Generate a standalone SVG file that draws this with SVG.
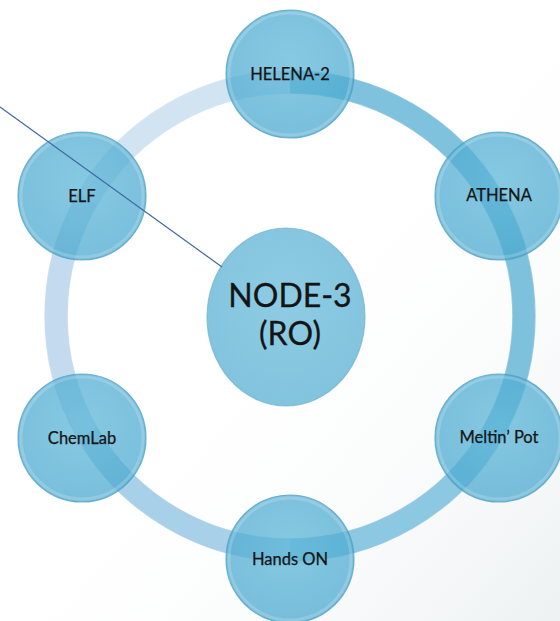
<svg xmlns="http://www.w3.org/2000/svg" width="560" height="621" viewBox="0 0 560 621">
  <defs>
    <linearGradient id="bgShade" x1="0" y1="0" x2="1" y2="1">
      <stop offset="0.45" stop-color="#ffffff" stop-opacity="0"/>
      <stop offset="1" stop-color="#dfe6e8" stop-opacity="0.55"/>
    </linearGradient>
    <radialGradient id="sat" cx="0.5" cy="0.4" r="0.6">
      <stop offset="0" stop-color="#5cb6d8"/>
      <stop offset="1" stop-color="#4aa8cf"/>
    </radialGradient>
    <radialGradient id="hub" cx="0.5" cy="0.4" r="0.6">
      <stop offset="0" stop-color="#8ecce4"/>
      <stop offset="1" stop-color="#82c3dd"/>
    </radialGradient>
    <style>
      .seg { fill: none; stroke-width: 22; }
      .segEdge { fill: none; stroke-width: 23.5; stroke-opacity: 0.55; }
      .sat { fill: url(#sat); fill-opacity: 0.74; stroke: #4f9fc0; stroke-opacity: 0.75; stroke-width: 1.2; }
      .glow { fill: none; stroke: #ffffff; stroke-opacity: 0.18; stroke-width: 3; }
      .hub { fill: url(#hub); stroke: #6fb3cf; stroke-opacity: 0.7; stroke-width: 1.2; }
      .lbl { font-family: Lato, "Liberation Sans", sans-serif; font-size: 16.5px; fill: #141414; stroke: #141414; stroke-width: 0.25; text-anchor: middle; }
      .big { font-family: Lato, "Liberation Sans", sans-serif; font-size: 32px; fill: #141414; stroke: #141414; stroke-width: 0.3; text-anchor: middle; }
      .link { stroke: #3f6a9e; stroke-width: 1.2; fill: none; }
    </style>
  </defs>

  <!-- background -->
  <rect x="0" y="0" width="560" height="621" fill="#ffffff"/>
  <rect x="0" y="0" width="560" height="621" fill="url(#bgShade)"/>

  <!-- cycle ring, one arc between each pair of neighbouring nodes -->
  <g id="ring">
    <path class="segEdge" stroke="#b8d3e8" d="M290,82 A234,234 0 0 0 87.4,199"/>
    <path class="seg" stroke="#d2e4f2" d="M290,82 A234,234 0 0 0 87.4,199"/>
    <path class="segEdge" stroke="#a8c8e2" d="M87.4,199 A234,234 0 0 0 87.4,433"/>
    <path class="seg" stroke="#c4daee" d="M87.4,199 A234,234 0 0 0 87.4,433"/>
    <path class="segEdge" stroke="#86b8d8" d="M87.4,433 A234,234 0 0 0 290,550"/>
    <path class="seg" stroke="#a8d0e8" d="M87.4,433 A234,234 0 0 0 290,550"/>
    <path class="segEdge" stroke="#6aaed0" d="M290,550 A234,234 0 0 0 492.6,433"/>
    <path class="seg" stroke="#8cc8e2" d="M290,550 A234,234 0 0 0 492.6,433"/>
    <path class="segEdge" stroke="#5aa6cc" d="M492.6,433 A234,234 0 0 0 492.6,199"/>
    <path class="seg" stroke="#7ec1dd" d="M492.6,433 A234,234 0 0 0 492.6,199"/>
    <path class="segEdge" stroke="#5aa6cc" d="M492.6,199 A234,234 0 0 0 290,82"/>
    <path class="seg" stroke="#7fc2de" d="M492.6,199 A234,234 0 0 0 290,82"/>
  </g>

  <!-- hub -->
  <g id="node-3">
    <ellipse class="hub" cx="286" cy="317" rx="79" ry="89"/>
    <text class="big" x="290" y="307">NODE-3</text>
    <text class="big" x="290" y="345">(RO)</text>
  </g>

  <!-- satellites -->
  <g id="helena-2">
    <circle class="sat" cx="290" cy="74" r="64"/>
    <circle class="glow" cx="290" cy="74" r="61"/>
    <text class="lbl" x="290" y="80">HELENA-2</text>
  </g>
  <g id="athena">
    <circle class="sat" cx="499" cy="196" r="64"/>
    <circle class="glow" cx="499" cy="196" r="61"/>
    <text class="lbl" x="499" y="201">ATHENA</text>
  </g>
  <g id="meltin-pot">
    <circle class="sat" cx="499" cy="438" r="64"/>
    <circle class="glow" cx="499" cy="438" r="61"/>
    <text class="lbl" x="499" y="443">Meltin’ Pot</text>
  </g>
  <g id="hands-on">
    <circle class="sat" cx="290" cy="559" r="64"/>
    <circle class="glow" cx="290" cy="559" r="61"/>
    <text class="lbl" x="290" y="565">Hands ON</text>
  </g>
  <g id="chemlab">
    <circle class="sat" cx="82" cy="438" r="64"/>
    <circle class="glow" cx="82" cy="438" r="61"/>
    <text class="lbl" x="82" y="444">ChemLab</text>
  </g>
  <g id="elf">
    <circle class="sat" cx="82" cy="196" r="64"/>
    <circle class="glow" cx="82" cy="196" r="61"/>
    <text class="lbl" x="82" y="202">ELF</text>
  </g>

  <!-- connectors -->
  <g id="connectors">
    <line class="link" x1="0" y1="107" x2="222" y2="267"/>
  </g>
</svg>
